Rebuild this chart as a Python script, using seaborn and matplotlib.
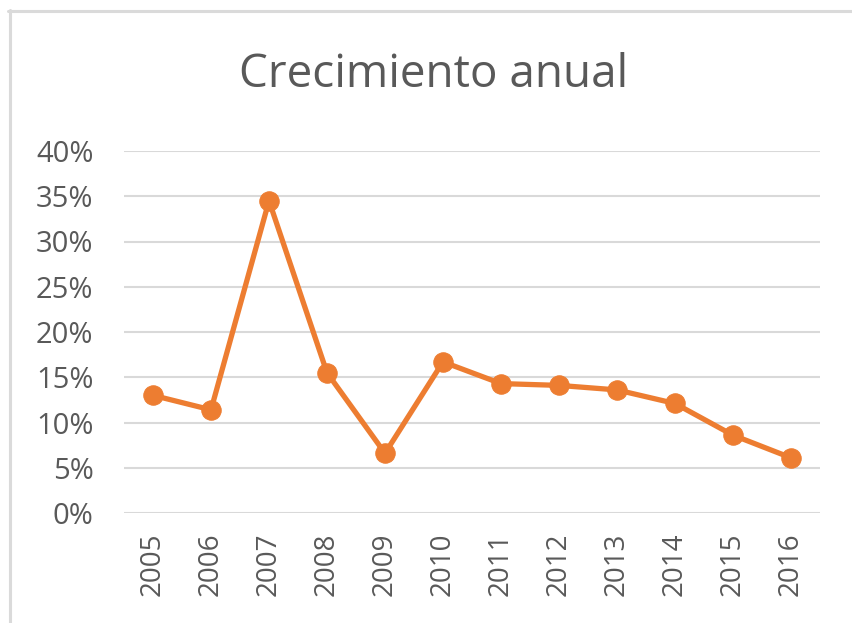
import matplotlib
matplotlib.use("Agg")
import matplotlib.pyplot as plt
from matplotlib.lines import Line2D
from matplotlib.ticker import PercentFormatter
import seaborn as sns
import pandas as pd

years = ["2005", "2006", "2007", "2008", "2009", "2010",
         "2011", "2012", "2013", "2014", "2015", "2016"]
growth = [0.130, 0.114, 0.345, 0.155, 0.066, 0.167,
          0.143, 0.141, 0.136, 0.121, 0.086, 0.061]
y_ticks = [0.00, 0.05, 0.10, 0.15, 0.20, 0.25, 0.30, 0.35, 0.40]

df = pd.DataFrame({"pos": range(len(years)), "year": years, "growth": growth})

sns.set_theme(style="white")
plt.rcParams["font.family"] = ["Open Sans", "DejaVu Sans"]

text_color = "#595959"
grid_color = "#D9D9D9"
line_color = "#ED7D31"

W, H = 852, 623
fig = plt.figure(figsize=(W / 100, H / 100), dpi=100)
fig.patch.set_facecolor("white")

# chart frame edges (top and left)
fig.add_artist(Line2D([8 / W, 1.0], [1 - 10.5 / H, 1 - 10.5 / H],
                      transform=fig.transFigure, color="#DADADA", linewidth=2.2))
fig.add_artist(Line2D([9.5 / W, 9.5 / W], [0.0, 1 - 9.5 / H],
                      transform=fig.transFigure, color="#DADADA", linewidth=2.2))

ax = fig.add_axes([124 / W, 110 / H, 696 / W, 362 / H])

sns.lineplot(data=df, x="pos", y="growth", ax=ax, color=line_color,
             linewidth=3.8, marker="o", markersize=14,
             markeredgecolor=line_color, markerfacecolor=line_color,
             zorder=3)

ax.set_xlim(-0.5, len(years) - 0.5)
ax.set_ylim(0, 0.40)
ax.set_yticks(y_ticks)
ax.yaxis.set_major_formatter(PercentFormatter(1.0, decimals=0))
ax.set_xticks(range(len(years)))
ax.set_xticklabels(years, rotation=90)

for y in y_ticks:
    ax.axhline(y, color=grid_color, linewidth=1.5, zorder=1)

for s in ax.spines.values():
    s.set_visible(False)

ax.tick_params(axis="y", length=0, pad=22, labelsize=21, labelcolor=text_color)
ax.tick_params(axis="x", length=0, pad=14, labelsize=20, labelcolor=text_color)
ax.set_xlabel("")
ax.set_ylabel("")

fig.text(434 / W, 1 - 75 / H, "Crecimiento anual", ha="center",
         va="center", fontsize=33, color=text_color)

fig.savefig("out.png", dpi=100, facecolor="white")
